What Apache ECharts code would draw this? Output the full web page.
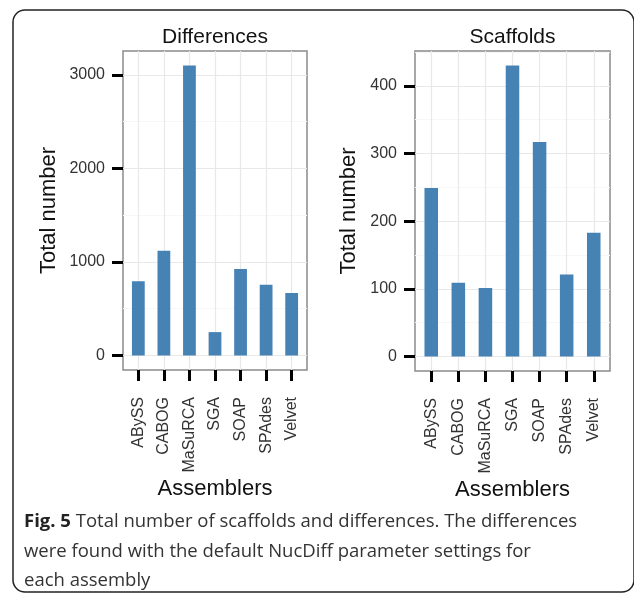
<!DOCTYPE html>
<html><head><meta charset="utf-8">
<script src="https://cdn.jsdelivr.net/npm/echarts@6/dist/echarts.min.js"></script>
<style>html,body{margin:0;padding:0;background:#fff}#c{width:634px;height:594px}</style>
</head><body><div id="c"></div>
<script>
// ---- data ----
const categories = ['ABySS', 'CABOG', 'MaSuRCA', 'SGA', 'SOAP', 'SPAdes', 'Velvet'];
const differences = [795, 1120, 3100, 250, 925, 757, 668];
const scaffolds = [249, 109, 101, 430, 317, 121, 183];
const diffTicks = [0, 1000, 2000, 3000];
const diffMinor = [500, 1500, 2500];
const scafTicks = [0, 100, 200, 300, 400];
const scafMinor = [50, 150, 250, 350, 450];
const panelTitles = ['Differences', 'Scaffolds'];
const xTitle = 'Assemblers';
const yTitle = 'Total number';
const captionBold = 'Fig. 5';
const captionLines = [
  ' Total number of scaffolds and differences. The differences',
  'were found with the default NucDiff parameter settings for',
  'each assembly'
];

// ---- chart ----
const FONT = '"Liberation Sans", Arial, sans-serif';
const CAPFONT = '"Open Sans", sans-serif';
const CAPSIZE = 18.5;
const catIdx = categories.map((c, i) => i);
const grids = [
  { left: 123, top: 51, width: 184, height: 319 },
  { left: 415, top: 51, width: 195, height: 320 }
];
const panels = [
  { values: differences, ticks: diffTicks, minor: diffMinor, nameGap: 63 },
  { values: scaffolds, ticks: scafTicks, minor: scafMinor, nameGap: 55 }
];

const xAxes = [], yAxes = [], series = [];
panels.forEach((p, gi) => {
  const maxV = Math.max(...p.values);
  xAxes.push({
    gridIndex: gi, type: 'value', min: -0.6, max: 6.6, position: 'bottom',
    axisLine: { show: false, onZero: false }, splitLine: { show: false },
    axisTick: { show: true, customValues: catIdx, length: 11, lineStyle: { color: '#000', width: 3 } },
    axisLabel: { customValues: catIdx, formatter: v => categories[Math.round(v)], rotate: 90,
      fontSize: 16, color: '#333', margin: 27, fontFamily: FONT },
    name: xTitle, nameLocation: 'middle', nameGap: 108, nameMoveOverlap: false,
    nameTextStyle: { fontSize: 22, color: '#111', fontFamily: FONT }
  });
  yAxes.push({
    gridIndex: gi, type: 'value', min: -0.05 * maxV, max: 1.05 * maxV, position: 'left',
    axisLine: { show: false, onZero: false }, splitLine: { show: false },
    axisTick: { show: true, customValues: p.ticks, length: 11, lineStyle: { color: '#000', width: 3 } },
    axisLabel: { customValues: p.ticks, formatter: v => String(v), fontSize: 16, color: '#333', margin: 18, fontFamily: FONT },
    name: yTitle, nameLocation: 'middle', nameRotate: 90, nameGap: p.nameGap, nameMoveOverlap: false,
    nameTextStyle: { fontSize: 22, color: '#111', fontFamily: FONT }
  });
  const gridMark = []
    .concat(p.minor.map(v => ({ yAxis: v, lineStyle: { color: '#f7f7f7', width: 1, type: 'solid' } })))
    .concat(p.ticks.map(v => ({ yAxis: v, lineStyle: { color: '#e8e8e8', width: 1.2, type: 'solid' } })))
    .concat(catIdx.map(v => ({ xAxis: v, lineStyle: { color: '#e8e8e8', width: 1.2, type: 'solid' } })));
  series.push({
    type: 'bar', xAxisIndex: gi, yAxisIndex: gi,
    data: p.values.map((v, i) => [i, v]),
    barWidth: grids[gi].width / 7.2 * 0.5,
    itemStyle: { color: '#4682B4' },
    z: 3,
    markLine: { silent: true, symbol: ['none', 'none'], label: { show: false }, z: 1,
      animation: false, data: gridMark }
  });
});

const graphics = [
  { type: 'rect', z: -1, shape: { x: 13, y: 10, width: 621, height: 582, r: 12 },
    style: { fill: 'none', stroke: '#222', lineWidth: 1.5 } },
  { type: 'text', x: 215, y: 37, style: { text: panelTitles[0], font: '21px ' + FONT, fill: '#111', align: 'center', verticalAlign: 'middle' } },
  { type: 'text', x: 512.5, y: 37, style: { text: panelTitles[1], font: '21px ' + FONT, fill: '#111', align: 'center', verticalAlign: 'middle' } },
  { type: 'text', x: 24, y: 522, style: { text: '{b|' + captionBold + '}' + captionLines[0],
      rich: { b: { font: 'bold ' + CAPSIZE + 'px ' + CAPFONT, fill: '#222' } },
      font: CAPSIZE + 'px ' + CAPFONT, fill: '#333', verticalAlign: 'middle' } },
  { type: 'text', x: 24, y: 552, style: { text: captionLines[1], font: CAPSIZE + 'px ' + CAPFONT, fill: '#333', verticalAlign: 'middle' } },
  { type: 'text', x: 24, y: 581, style: { text: captionLines[2], font: CAPSIZE + 'px ' + CAPFONT, fill: '#333', verticalAlign: 'middle' } }
];

const chart = echarts.init(document.getElementById('c'));
chart.setOption({
  animation: false,
  backgroundColor: '#fff',
  grid: grids.map(g => Object.assign({ show: true, borderColor: '#8a8a8a', borderWidth: 1.5, backgroundColor: '#fff', containLabel: false }, g)),
  xAxis: xAxes,
  yAxis: yAxes,
  series: series,
  graphic: graphics
});
</script>
</body></html>
